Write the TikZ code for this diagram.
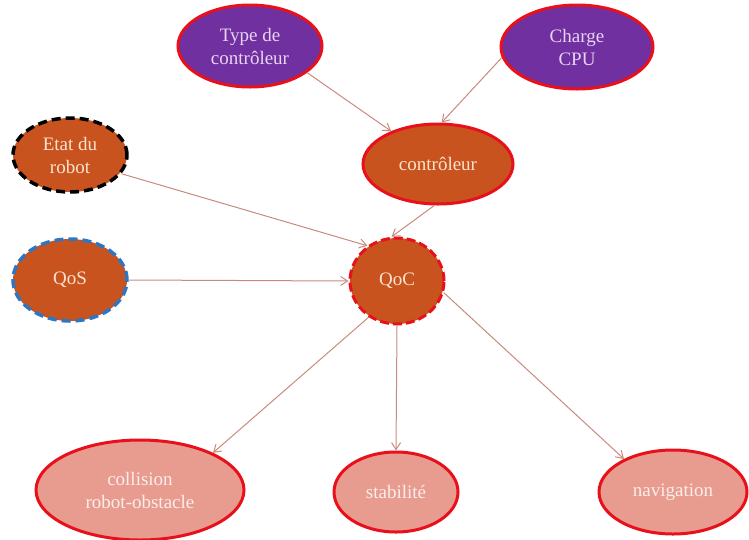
\documentclass[tikz,border=0pt]{standalone}
\usepackage{fontspec}
\setmainfont{Liberation Serif}
\usetikzlibrary{shapes.geometric,arrows.meta}
\definecolor{purp}{HTML}{7030A0}
\definecolor{orng}{HTML}{C9531E}
\definecolor{pink}{HTML}{E89C90}
\definecolor{bred}{HTML}{E8101A}
\definecolor{arr}{HTML}{C98A7E}
\definecolor{dblue}{HTML}{2E75C2}
\definecolor{txtp}{HTML}{E8D4F2}
\definecolor{txto}{HTML}{FAE3CF}
\definecolor{txtk}{HTML}{FCEDEA}
\tikzset{
  base/.style={ellipse, inner sep=0pt, align=center, font=\fontsize{19}{23}\selectfont},
  purpnode/.style={base, fill=purp, draw=bred, line width=3pt, text=txtp},
  orngnode/.style={base, fill=orng, draw=bred, line width=3pt, text=txto},
  pinknode/.style={base, fill=pink, draw=bred, line width=3pt, text=txtk},
  blackdash/.style={base, fill=orng, draw=black, line width=3.5pt, dash pattern=on 9pt off 5pt, text=txto},
  bluedash/.style={base, fill=orng, draw=dblue, line width=3.5pt, dash pattern=on 9pt off 5pt, text=txto},
  reddash/.style={base, fill=orng, draw=bred, line width=3pt, dash pattern=on 9pt off 4pt, text=txto},
  conn/.style={draw=arr, line width=1pt, -{Straight Barb[length=7pt,width=9pt]}}
}
\begin{document}
\begin{tikzpicture}[x=1pt,y=-1pt]
\useasboundingbox (0,0) rectangle (749,539);
\node[purpnode, minimum width=144pt, minimum height=82pt] (typ) at (250,46) {Type de\\contrôleur};
\node[purpnode, minimum width=152pt, minimum height=84pt] (cpu) at (577,47) {Charge\\CPU};
\node[blackdash, minimum width=114pt, minimum height=74pt] (etat) at (70,155) {Etat du\\robot};
\node[orngnode, minimum width=150pt, minimum height=80pt] (ctl) at (438,164) {contrôleur};
\node[bluedash, minimum width=114pt, minimum height=82pt] (qos) at (70,280) {QoS};
\node[reddash, minimum width=94pt, minimum height=86pt] (qoc) at (397,281) {QoC};
\node[pinknode, minimum width=208pt, minimum height=100pt] (col) at (140,490) {collision\\robot-obstacle};
\node[pinknode, minimum width=124pt, minimum height=80pt] (sta) at (396,492) {stabilité};
\node[pinknode, minimum width=148pt, minimum height=84pt] (nav) at (673,492) {navigation};
\draw[conn] (typ.-25) -- (ctl.145);
\draw[conn] (cpu.188) -- (ctl.85);
\draw[conn] (etat.-20) -- (qoc.130);
\draw[conn] (ctl.-95) -- (qoc.97);
\draw[conn] (qos.east) -- (qoc.west);
\draw[conn] (qoc.232) -- (col.27);
\draw[conn] (qoc.south) -- (sta.north);
\draw[conn] (qoc.-14) -- (nav.146);
\end{tikzpicture}
\end{document}
